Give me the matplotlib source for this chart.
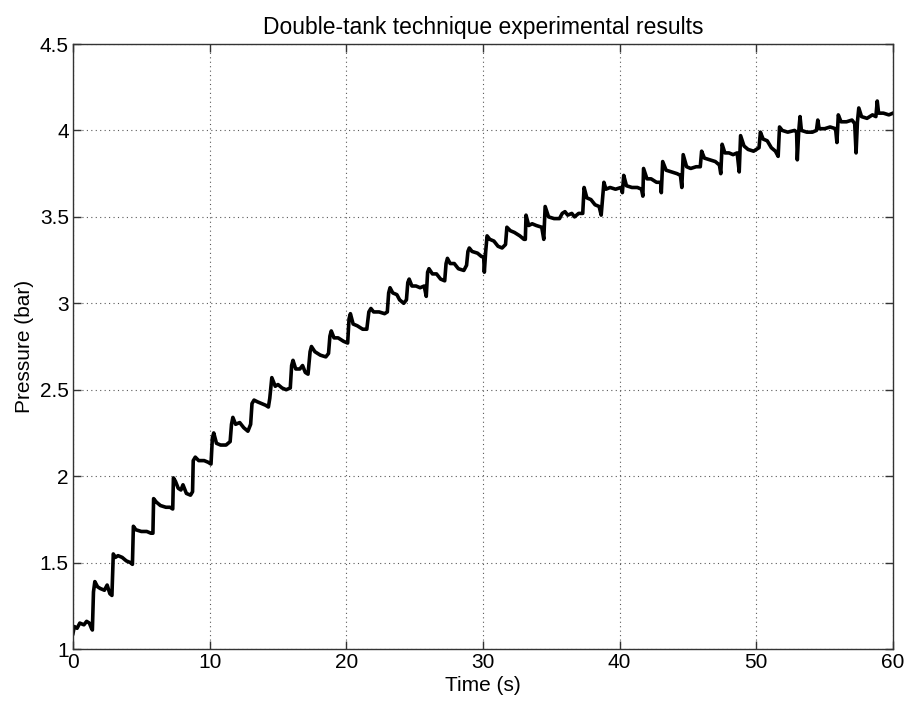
import matplotlib
matplotlib.use("Agg")
import matplotlib.pyplot as plt

# pressure trace (time in s, pressure in bar)
time_s = [
    0.0, 0.1, 0.3, 0.5, 0.8, 1.0, 1.2, 1.35, 1.42, 1.5, 1.6,
    1.8, 2.0, 2.3, 2.5, 2.7, 2.85, 2.95,
    3.1, 3.3, 3.6, 3.9, 4.2, 4.35, 4.42,
    4.6, 5.0, 5.4, 5.7, 5.85, 5.9,
    6.1, 6.4, 6.8, 7.1, 7.3, 7.35,
    7.5, 7.7, 7.9, 8.05, 8.3, 8.6, 8.75, 8.8, 8.95,
    9.2, 9.6, 9.9, 10.1, 10.2, 10.3,
    10.5, 10.8, 11.2, 11.5, 11.6, 11.7,
    11.9, 12.2, 12.5, 12.8, 13.0, 13.1, 13.25,
    13.5, 13.8, 14.1, 14.3, 14.4, 14.55,
    14.8, 15.0, 15.3, 15.6, 15.9, 16.0, 16.1,
    16.3, 16.6, 16.8, 17.0, 17.2, 17.35, 17.45,
    17.7, 18.1, 18.5, 18.7, 18.8, 18.9,
    19.1, 19.4, 19.8, 20.1, 20.2, 20.3,
    20.5, 20.8, 21.2, 21.5, 21.65, 21.8,
    22.0, 22.4, 22.8, 23.0, 23.1, 23.2,
    23.4, 23.7, 23.9, 24.2, 24.4, 24.5, 24.6,
    24.8, 25.1, 25.4, 25.7, 25.85, 25.95, 26.05,
    26.3, 26.6, 26.9, 27.2, 27.3, 27.4,
    27.6, 27.9, 28.2, 28.6, 28.8, 28.9, 29.0,
    29.2, 29.6, 29.9, 30.05, 30.1, 30.2, 30.3,
    30.5, 30.8, 31.1, 31.4, 31.65, 31.75,
    32.0, 32.3, 32.7, 33.0, 33.1, 33.15,
    33.35, 33.6, 33.9, 34.3, 34.45, 34.55,
    34.8, 35.2, 35.6, 35.8, 36.0, 36.2, 36.5, 36.7, 37.0, 37.3, 37.4,
    37.6, 37.9, 38.2, 38.5, 38.65, 38.85,
    39.0, 39.3, 39.7, 40.1, 40.2, 40.3,
    40.5, 40.9, 41.3, 41.6, 41.7, 41.75,
    42.0, 42.3, 42.7, 43.0, 43.05, 43.15,
    43.4, 43.8, 44.2, 44.45, 44.55, 44.65,
    44.9, 45.2, 45.6, 45.9, 46.0,
    46.2, 46.6, 47.0, 47.3, 47.4, 47.5,
    47.7, 48.0, 48.3, 48.6, 48.75, 48.85,
    49.1, 49.4, 49.8, 50.2, 50.3,
    50.5, 50.8, 51.1, 51.4, 51.6, 51.7,
    51.9, 52.3, 52.8, 52.95, 53.0, 53.1, 53.2, 53.3, 53.7, 54.1, 54.4,
    54.5, 54.6, 55.0, 55.4, 55.8, 55.9, 56.0, 56.2, 56.6, 57.0, 57.2,
    57.3, 57.4, 57.5, 57.7, 58.1, 58.5, 58.75, 58.85, 58.95, 59.3, 59.7, 60.0,
]
pressure_bar = [
    1.09, 1.13, 1.12, 1.15, 1.14, 1.16, 1.15, 1.12, 1.11, 1.33, 1.39,
    1.36, 1.35, 1.34, 1.37, 1.32, 1.31, 1.55,
    1.53, 1.54, 1.53, 1.51, 1.50, 1.49, 1.71,
    1.69, 1.68, 1.68, 1.67, 1.67, 1.87,
    1.85, 1.83, 1.82, 1.82, 1.81, 1.99,
    1.97, 1.93, 1.92, 1.95, 1.90, 1.89, 1.91, 2.09, 2.11,
    2.09, 2.09, 2.08, 2.07, 2.22, 2.25,
    2.19, 2.18, 2.18, 2.20, 2.30, 2.34,
    2.30, 2.31, 2.28, 2.26, 2.30, 2.42, 2.44,
    2.43, 2.42, 2.41, 2.40, 2.45, 2.57,
    2.52, 2.53, 2.51, 2.50, 2.51, 2.64, 2.67,
    2.62, 2.62, 2.64, 2.60, 2.59, 2.72, 2.75,
    2.72, 2.70, 2.69, 2.71, 2.81, 2.84,
    2.80, 2.80, 2.78, 2.77, 2.91, 2.94,
    2.88, 2.87, 2.85, 2.85, 2.95, 2.97,
    2.95, 2.95, 2.94, 2.95, 3.06, 3.09,
    3.06, 3.05, 3.02, 3.00, 3.02, 3.12, 3.14,
    3.10, 3.10, 3.09, 3.10, 3.04, 3.18, 3.20,
    3.17, 3.17, 3.14, 3.13, 3.23, 3.26,
    3.23, 3.23, 3.20, 3.19, 3.22, 3.30, 3.32,
    3.30, 3.29, 3.27, 3.27, 3.18, 3.30, 3.39,
    3.37, 3.36, 3.33, 3.32, 3.34, 3.44,
    3.42, 3.41, 3.39, 3.37, 3.37, 3.51,
    3.45, 3.46, 3.45, 3.44, 3.37, 3.56,
    3.50, 3.49, 3.49, 3.52, 3.53, 3.51, 3.52, 3.50, 3.52, 3.52, 3.67,
    3.61, 3.60, 3.57, 3.56, 3.51, 3.70,
    3.66, 3.67, 3.66, 3.67, 3.64, 3.74,
    3.68, 3.67, 3.67, 3.66, 3.62, 3.78,
    3.72, 3.72, 3.70, 3.70, 3.64, 3.82,
    3.77, 3.76, 3.75, 3.74, 3.67, 3.86,
    3.79, 3.78, 3.79, 3.79, 3.88,
    3.84, 3.83, 3.82, 3.80, 3.75, 3.92,
    3.87, 3.87, 3.86, 3.87, 3.76, 3.97,
    3.91, 3.89, 3.88, 3.90, 3.99,
    3.95, 3.94, 3.90, 3.88, 3.85, 4.02,
    4.00, 3.99, 4.00, 3.99, 3.83, 3.99, 4.08, 4.00, 3.99, 3.99, 4.00,
    4.06, 4.01, 4.01, 4.02, 4.01, 3.93, 4.09, 4.05, 4.05, 4.06, 4.04,
    3.87, 4.05, 4.13, 4.08, 4.07, 4.09, 4.08, 4.17, 4.10, 4.10, 4.09, 4.10,
]

x_ticks = [0, 10, 20, 30, 40, 50, 60]
y_ticks = [1, 1.5, 2, 2.5, 3, 3.5, 4, 4.5]
y_tick_labels = ["1", "1.5", "2", "2.5", "3", "3.5", "4", "4.5"]

plt.rcParams["font.family"] = ["Liberation Sans", "DejaVu Sans"]

fig = plt.figure(figsize=(9.11, 7.04), dpi=100)
ax = fig.add_axes([0.0801, 0.0781, 0.9001, 0.8594])

ax.plot(time_s, pressure_bar, color="black", linewidth=2.6)

ax.set_xlim(0, 60)
ax.set_ylim(1, 4.5)
ax.set_xticks(x_ticks)
ax.set_yticks(y_ticks)
ax.set_yticklabels(y_tick_labels)
ax.tick_params(direction="in", length=6, width=1, labelsize=15, top=True, right=True,
               color="0.2")
ax.tick_params(axis="x", pad=3)
ax.tick_params(axis="y", pad=3)
ax.grid(True, color="0.35", linestyle=(0, (1, 3)), linewidth=0.8)
for s in ax.spines.values():
    s.set_linewidth(1)
    s.set_color("0.2")

ax.set_xlabel("Time (s)", fontsize=15, labelpad=3)
ax.set_ylabel("Pressure (bar)", fontsize=15, labelpad=4)
ax.set_title("Double-tank technique experimental results", fontsize=16.5, pad=7)

fig.savefig("out.png", dpi=100)
